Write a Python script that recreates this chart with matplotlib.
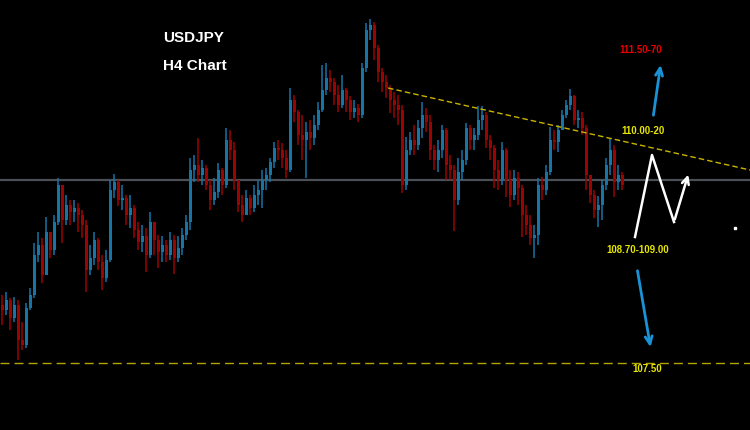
import numpy as np
import matplotlib.pyplot as plt

# USDJPY H4 candles (price levels)
first_open = 108.08
closes = [
    108.03, 108.13, 107.95, 108.08, 107.73, 107.68, 108.05, 108.18, 108.58, 108.68,
    108.38, 108.81, 108.63, 108.91, 109.28, 108.93, 109.08, 109.01, 109.05, 108.98,
    108.88, 108.43, 108.55, 108.73, 108.51, 108.35, 108.53, 109.23, 109.31, 109.13,
    109.15, 108.98, 109.05, 108.83, 108.71, 108.77, 108.58, 108.91, 108.73, 108.61,
    108.68, 108.58, 108.73, 108.55, 108.65, 108.78, 108.91, 109.43, 109.48, 109.38,
    109.45, 109.28, 109.13, 109.21, 109.43, 109.28, 109.73, 109.63, 109.33, 109.08,
    108.98, 109.15, 109.05, 109.18, 109.23, 109.33, 109.38, 109.51, 109.65, 109.63,
    109.55, 109.43, 110.13, 110.01, 109.78, 109.73, 109.81, 109.75, 109.88, 110.03,
    110.23, 110.35, 110.31, 110.18, 110.08, 110.23, 110.13, 110.01, 110.05, 109.98,
    110.45, 110.83, 110.88, 110.65, 110.41, 110.31, 110.25, 110.13, 110.08, 110.03,
    109.28, 109.63, 109.73, 109.68, 109.85, 109.98, 109.91, 109.63, 109.53, 109.63,
    109.83, 109.48, 109.43, 109.13, 109.41, 109.53, 109.85, 109.73, 109.78, 109.93,
    109.98, 109.73, 109.65, 109.43, 109.33, 109.63, 109.33, 109.18, 109.35, 109.25,
    108.98, 108.88, 108.75, 108.78, 109.28, 109.23, 109.41, 109.73, 109.71, 109.83,
    109.98, 110.08, 110.17, 109.93, 109.95, 109.85, 109.38, 109.18, 109.03, 109.08,
    109.28, 109.48, 109.63, 109.31, 109.38, 109.28,
]
highs = [
    108.18, 108.21, 108.15, 108.16, 108.13, 107.91, 108.10, 108.25, 108.70, 108.81,
    108.75, 108.96, 108.77, 108.98, 109.35, 109.25, 109.18, 109.13, 109.13, 109.10,
    109.03, 108.93, 108.68, 108.81, 108.75, 108.58, 108.63, 109.33, 109.39, 109.33,
    109.28, 109.18, 109.18, 109.08, 108.91, 108.88, 108.85, 109.01, 108.87, 108.78,
    108.77, 108.73, 108.81, 108.78, 108.77, 108.85, 108.98, 109.55, 109.58, 109.75,
    109.53, 109.48, 109.33, 109.35, 109.50, 109.45, 109.85, 109.83, 109.71, 109.33,
    109.18, 109.23, 109.18, 109.28, 109.33, 109.43, 109.45, 109.55, 109.71, 109.73,
    109.70, 109.63, 110.25, 110.18, 110.03, 109.98, 109.91, 109.93, 109.98, 110.11,
    110.48, 110.50, 110.43, 110.35, 110.28, 110.38, 110.25, 110.17, 110.13, 110.09,
    110.50, 110.90, 110.94, 110.91, 110.68, 110.45, 110.38, 110.28, 110.21, 110.18,
    110.08, 109.76, 109.81, 109.88, 109.93, 110.11, 110.05, 109.98, 109.68, 109.73,
    109.88, 109.85, 109.58, 109.48, 109.55, 109.63, 109.90, 109.88, 109.85, 110.07,
    110.07, 110.01, 109.78, 109.68, 109.53, 109.71, 109.65, 109.43, 109.43, 109.41,
    109.28, 109.08, 108.98, 108.88, 109.35, 109.36, 109.48, 109.86, 109.83, 109.88,
    110.03, 110.13, 110.24, 110.18, 110.03, 110.01, 109.88, 109.38, 109.23, 109.17,
    109.33, 109.55, 109.75, 109.68, 109.48, 109.41,
]
lows = [
    107.88, 107.98, 107.83, 107.91, 107.53, 107.63, 107.65, 108.03, 108.15, 108.51,
    108.30, 108.45, 108.55, 108.58, 108.88, 108.70, 108.88, 108.88, 108.91, 108.81,
    108.75, 108.21, 108.38, 108.48, 108.43, 108.23, 108.31, 108.51, 109.15, 109.07,
    109.03, 108.88, 108.85, 108.75, 108.63, 108.61, 108.41, 108.55, 108.58, 108.45,
    108.51, 108.51, 108.53, 108.39, 108.51, 108.58, 108.73, 108.83, 109.31, 109.31,
    109.28, 109.23, 109.03, 109.08, 109.15, 109.18, 109.25, 109.53, 109.23, 109.01,
    108.91, 108.98, 108.98, 109.01, 109.08, 109.05, 109.23, 109.31, 109.45, 109.53,
    109.45, 109.35, 109.41, 109.91, 109.68, 109.53, 109.35, 109.63, 109.68, 109.83,
    110.01, 110.18, 110.21, 110.08, 110.01, 110.05, 110.01, 109.93, 109.95, 109.91,
    109.95, 110.41, 110.73, 110.53, 110.31, 110.21, 110.15, 110.00, 109.95, 109.88,
    109.20, 109.23, 109.58, 109.58, 109.63, 109.75, 109.81, 109.53, 109.43, 109.41,
    109.55, 109.33, 109.33, 108.82, 109.08, 109.33, 109.48, 109.63, 109.63, 109.73,
    109.83, 109.65, 109.53, 109.25, 109.23, 109.28, 109.16, 109.06, 109.13, 109.08,
    108.76, 108.78, 108.68, 108.55, 108.68, 109.13, 109.18, 109.38, 109.63, 109.61,
    109.83, 109.95, 110.03, 109.88, 109.85, 109.78, 109.23, 109.10, 108.95, 108.86,
    108.93, 109.23, 109.38, 109.16, 109.23, 109.23,
]

support_level = 107.50
current_level = 109.33
trend_x = [96.5, 187.0]
trend_y = [110.25, 109.43]

# projected path (pixel positions on the picture)
zigzag_x = [635, 652, 674, 689]
zigzag_y = [237, 155, 222, 172]

BLUE = '#1674a6'
RED = '#9c0303'
YELLOW = '#e6e600'

W, H = 750, 430
fig = plt.figure(figsize=(7.5, 4.3), dpi=100, facecolor='black')
ax = fig.add_axes([0, 0, 1, 1], facecolor='black')
ax.set_xlim(-0.5, 187)
ax.set_ylim(106.83, 111.13)
ax.axis('off')


def fx(px):
    return px / W


def fy(py):
    return 1 - py / H


# candles
closes = np.array(closes)
opens = np.r_[first_open, closes[:-1]]
highs = np.maximum(np.array(highs), np.maximum(opens, closes))
lows = np.minimum(np.array(lows), np.minimum(opens, closes))
idx = np.arange(len(closes))
colors = np.where(closes >= opens, BLUE, RED)
body = np.maximum(np.abs(closes - opens), 0.012)
ax.vlines(idx, lows, highs, colors=colors, lw=1.1, zorder=3)
ax.bar(idx, body, bottom=np.minimum(opens, closes), width=0.75,
       color=colors, linewidth=0, zorder=3)

# levels
ax.axhline(current_level, color='#4b4f58', lw=1.6, zorder=2)
ax.axhline(support_level, color='#b4a400', lw=1.0, dashes=(6.5, 3.6), zorder=2)
ax.plot(trend_x, trend_y, color='#c8b400', lw=1.0, dashes=(4, 2.2), zorder=4)

# projected moves
ax.plot([fx(v) for v in zigzag_x[:-1]], [fy(v) for v in zigzag_y[:-1]],
        color='white', lw=1.8, transform=ax.transAxes, zorder=5)
ax.annotate('', xy=(fx(zigzag_x[-1]), fy(zigzag_y[-1])),
            xytext=(fx(zigzag_x[-2]), fy(zigzag_y[-2])),
            xycoords='axes fraction', textcoords='axes fraction',
            arrowprops=dict(arrowstyle='->,head_length=0.5,head_width=0.25',
                            color='white', lw=1.8))
ax.annotate('', xy=(fx(661), fy(62)), xytext=(fx(653), fy(118)),
            xycoords='axes fraction', textcoords='axes fraction',
            arrowprops=dict(arrowstyle='->,head_length=0.55,head_width=0.25',
                            color='#1a93d6', lw=2.0))
ax.annotate('', xy=(fx(651), fy(350)), xytext=(fx(637), fy(268)),
            xycoords='axes fraction', textcoords='axes fraction',
            arrowprops=dict(arrowstyle='->,head_length=0.55,head_width=0.25',
                            color='#1a93d6', lw=2.0))
ax.plot(fx(735), fy(228), 's', color='white', ms=2, transform=ax.transAxes)

# labels
font = ['Liberation Sans', 'DejaVu Sans']
ax.text(fx(163), fy(38), 'USDJPY', color='white', fontsize=11, fontweight='bold',
        family=font, va='center', ha='left', transform=ax.transAxes)
ax.text(fx(163), fy(66), 'H4 Chart', color='white', fontsize=11, fontweight='bold',
        family=font, va='center', ha='left', transform=ax.transAxes)
ax.text(fx(641), fy(50), '111.50-70', color='#e80000', fontsize=7,
        fontweight='bold', family=font, va='center', ha='center',
        transform=ax.transAxes)
ax.text(fx(643), fy(131), '110.00-20', color=YELLOW, fontsize=7,
        fontweight='bold', family=font, va='center', ha='center',
        transform=ax.transAxes)
ax.text(fx(638), fy(250), '108.70-109.00', color=YELLOW, fontsize=7,
        fontweight='bold', family=font, va='center', ha='center',
        transform=ax.transAxes)
ax.text(fx(647), fy(369), '107.50', color=YELLOW, fontsize=7,
        fontweight='bold', family=font, va='center', ha='center',
        transform=ax.transAxes)

fig.savefig('out.png', dpi=100, facecolor='black')
